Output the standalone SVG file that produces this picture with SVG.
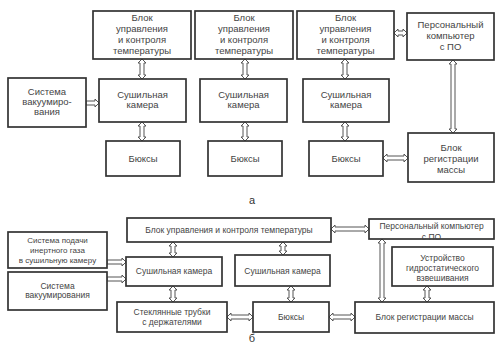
<svg xmlns="http://www.w3.org/2000/svg" width="496" height="343" viewBox="0 0 496 343">
<style>
.b{fill:#fff;stroke:#333;stroke-width:1.7}
.a{fill:#fff;stroke:#555;stroke-width:1}
text{font-family:"Liberation Sans",Arial,sans-serif;fill:#444;text-anchor:middle}
.t{font-size:9.5px}
.s{font-size:8.5px}
.x{font-size:8px}
.l{font-size:11px;fill:#333}
</style>
<rect width="496" height="343" fill="#fff"/>
<g id="connectors">
<path class="a" d="M142 59 L146 63 H144 V75 H146 L142 79 L138 75 H140 V63 H138 Z"/>
<path class="a" d="M245 59 L249 63 H247 V75 H249 L245 79 L241 75 H243 V63 H241 Z"/>
<path class="a" d="M345 59 L349 63 H347 V75 H349 L345 79 L341 75 H343 V63 H341 Z"/>
<path class="a" d="M142 122 L146 126 H144 V137 H146 L142 141 L138 137 H140 V126 H138 Z"/>
<path class="a" d="M245 122 L249 126 H247 V137 H249 L245 141 L241 137 H243 V126 H241 Z"/>
<path class="a" d="M345 122 L349 126 H347 V137 H349 L345 141 L341 137 H343 V126 H341 Z"/>
<path class="a" d="M453 60 L457 64 H455 V129 H457 L453 133 L449 129 H451 V64 H449 Z"/>
<path class="a" d="M86 101 H95 V99 L99 103 L95 107 V105 H86 Z"/>
<path class="a" d="M394 33 L398 29 V31 H403 V29 L407 33 L403 37 V35 H398 V37 Z"/>
<path class="a" d="M383 158 L387 154 V156 H404 V154 L408 158 L404 162 V160 H387 V162 Z"/>
<path class="a" d="M331 229 L335 225 V227 H365 V225 L369 229 L365 233 V231 H335 V233 Z"/>
<path class="a" d="M107 260 H122 V258 L126 262 L122 266 V264 H107 Z"/>
<path class="a" d="M107 277 H122 V275 L126 279 L122 283 V281 H107 Z"/>
<path class="a" d="M173 242 L177 246 H175 V253 H177 L173 257 L169 253 H171 V246 H169 Z"/>
<path class="a" d="M283 242 L287 246 H285 V251 H287 L283 255 L279 251 H281 V246 H279 Z"/>
<path class="a" d="M173 286 L177 290 H175 V298 H177 L173 302 L169 298 H171 V290 H169 Z"/>
<path class="a" d="M291 286 L295 290 H293 V298 H295 L291 302 L287 298 H289 V290 H287 Z"/>
<path class="a" d="M227 317 L231 313 V315 H249 V313 L253 317 L249 321 V319 H231 V321 Z"/>
<path class="a" d="M329 317 L333 313 V315 H351 V313 L355 317 L351 321 V319 H333 V321 Z"/>
<path class="a" d="M427 286 L431 290 H429 V298 H431 L427 302 L423 298 H425 V290 H423 Z"/>
<path class="a" d="M382 239 L386 243 H384 V298 H386 L382 302 L378 298 H380 V243 H378 Z"/>
</g>
<g id="a-upr1"><rect class="b" x="93" y="11" width="98" height="48"/><text class="t" x="142" y="21">Блок</text><text class="t" x="142" y="32">управления</text><text class="t" x="142" y="43">и контроля</text><text class="t" x="142" y="54">температуры</text></g>
<g id="a-upr2"><rect class="b" x="195" y="11" width="98" height="48"/><text class="t" x="244" y="21">Блок</text><text class="t" x="244" y="32">управления</text><text class="t" x="244" y="43">и контроля</text><text class="t" x="244" y="54">температуры</text></g>
<g id="a-upr3"><rect class="b" x="297" y="11" width="97" height="48"/><text class="t" x="345.5" y="21">Блок</text><text class="t" x="345.5" y="32">управления</text><text class="t" x="345.5" y="43">и контроля</text><text class="t" x="345.5" y="54">температуры</text></g>
<g id="a-pc"><rect class="b" x="407" y="13" width="87" height="47"/><text class="t" x="450.5" y="28">Персональный</text><text class="t" x="450.5" y="39">компьютер</text><text class="t" x="450.5" y="50">с ПО</text></g>
<g id="a-vac"><rect class="b" x="8" y="78" width="78" height="49"/><text class="t" x="47" y="95">Система</text><text class="t" x="47" y="105">вакуумиро-</text><text class="t" x="47" y="115">вания</text></g>
<g id="a-dry1"><rect class="b" x="99" y="79" width="87" height="43"/><text class="t" x="142.5" y="98">Сушильная</text><text class="t" x="142.5" y="108">камера</text></g>
<g id="a-dry2"><rect class="b" x="200" y="79" width="87" height="43"/><text class="t" x="243.5" y="98">Сушильная</text><text class="t" x="243.5" y="108">камера</text></g>
<g id="a-dry3"><rect class="b" x="303" y="79" width="86" height="43"/><text class="t" x="346" y="98">Сушильная</text><text class="t" x="346" y="108">камера</text></g>
<g id="a-bux1"><rect class="b" x="106" y="141" width="74" height="35"/><text class="t" x="143" y="162">Бюксы</text></g>
<g id="a-bux2"><rect class="b" x="208" y="141" width="74" height="35"/><text class="t" x="245" y="162">Бюксы</text></g>
<g id="a-bux3"><rect class="b" x="309" y="141" width="74" height="35"/><text class="t" x="346" y="162">Бюксы</text></g>
<g id="a-reg"><rect class="b" x="408" y="133" width="86" height="49"/><text class="t" x="451" y="151">Блок</text><text class="t" x="451" y="162">регистрации</text><text class="t" x="451" y="173">массы</text></g>
<text class="l" x="252" y="204">а</text>
<g id="b-upr"><rect class="b" x="127" y="218" width="204" height="24"/><text class="s" x="229" y="233">Блок управления и контроля температуры</text></g>
<g id="b-pc"><rect class="b" x="369" y="219" width="125" height="20"/><text class="s" x="431.5" y="229">Персональный компьютер</text><text class="s" x="431.5" y="240">с ПО</text></g>
<g id="b-gas"><rect class="b" x="8" y="232" width="99" height="36"/><text class="x" x="57.5" y="243">Система подачи</text><text class="x" x="57.5" y="253">инертного газа</text><text class="x" x="57.5" y="263">в сушильную камеру</text></g>
<g id="b-vac"><rect class="b" x="8" y="272" width="99" height="38"/><text class="s" x="57.5" y="289">Система</text><text class="s" x="57.5" y="298">вакуумирования</text></g>
<g id="b-dryL"><rect class="b" x="126" y="257" width="96" height="29"/><text class="s" x="174" y="274">Сушильная камера</text></g>
<g id="b-dryM"><rect class="b" x="235" y="255" width="95" height="31"/><text class="s" x="282.5" y="274">Сушильная камера</text></g>
<g id="b-tubes"><rect class="b" x="117" y="302" width="110" height="30"/><text class="s" x="172" y="315">Стеклянные трубки</text><text class="s" x="172" y="325">с держателями</text></g>
<g id="b-bux"><rect class="b" x="253" y="302" width="76" height="30"/><text class="s" x="291" y="320">Бюксы</text></g>
<g id="b-reg"><rect class="b" x="355" y="302" width="139" height="31"/><text class="s" x="424.5" y="320">Блок регистрации массы</text></g>
<g id="b-hydro"><rect class="b" x="392" y="247" width="101" height="39"/><text class="s" x="442.5" y="261">Устройство</text><text class="s" x="442.5" y="271">гидростатического</text><text class="s" x="442.5" y="281">взвешивания</text></g>
<text class="l" x="252" y="342">б</text>
</svg>
